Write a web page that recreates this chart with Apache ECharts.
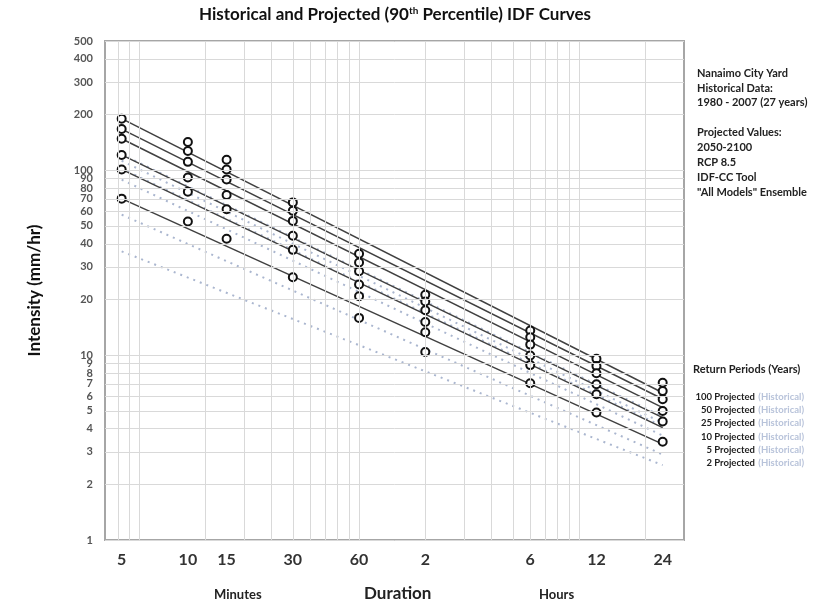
<!DOCTYPE html>
<html><head><meta charset="utf-8">
<script src="https://cdn.jsdelivr.net/npm/echarts@6/dist/echarts.min.js"></script>
<style>html,body{margin:0;padding:0;background:#fff}#c{width:817px;height:607px}</style>
</head><body><div id="c"></div>
<script>
// Durations in minutes
const durations = [5, 10, 15, 30, 60, 120, 360, 720, 1440];
const returnPeriods = ['100', '50', '25', '10', '5', '2'];

// Projected IDF values (mm/hr), markers
const projected100 = [190, 142, 114, 67, 35.3, 21.2, 13.6, 9.55, 7.09];
const projected50  = [167, 127, 101, 60.3, 31.7, 19.5, 12.5, 8.72, 6.40];
const projected25  = [148, 111, 89.2, 53.2, 28.4, 17.5, 11.4, 7.97, 5.77];
const projected10  = [121, 91.4, 73.5, 44.2, 24.1, 15.1, 9.96, 6.95, 4.99];
const projected5   = [101, 76.6, 61.5, 37.1, 20.8, 13.3, 8.83, 6.14, 4.37];
const projected2   = [70.2, 52.8, 42.6, 26.4, 15.9, 10.4, 7.04, 4.89, 3.40];

// Fitted projected curves (values at first and last duration)
const fitDurations = [5, 1440];
const fit100 = [190, 6.26];
const fit50  = [167, 5.79];
const fit25  = [148, 5.20];
const fit10  = [121, 4.59];
const fit5   = [101, 4.05];
const fit2   = [70.2, 3.30];

// Historical fitted curves (dotted)
const hist100 = [122, 4.65];
const hist50  = [102, 4.12];
const hist25  = [112.5, 4.3];
const hist10  = [88.9, 3.67];
const hist5   = [57.5, 2.90];
const hist2   = [36.4, 2.54];

// Axis ticks
const xTickValues = [5, 10, 15, 30, 60, 120, 360, 720, 1440];
const xTickLabels = ['5', '10', '15', '30', '60', '2', '6', '12', '24'];
const xGridValues = [4.8, 5.4, 6, 12, 18, 24, 30, 36, 42, 48, 54, 60, 120, 180, 240, 300, 360, 420, 480, 540, 600, 1200];
const yTickValues = [1, 2, 3, 4, 5, 6, 7, 8, 9, 10, 20, 30, 40, 50, 60, 70, 80, 90, 100, 200, 300, 400, 500];

const projected = [projected100, projected50, projected25, projected10, projected5, projected2];
const fits = [fit100, fit50, fit25, fit10, fit5, fit2];
const hists = [hist100, hist50, hist25, hist10, hist5, hist2];

const FONT = 'Lato, "Open Sans", sans-serif';
const chart = echarts.init(document.getElementById('c'), null, {renderer: 'canvas'});

const gridMarkData = [];
yTickValues.forEach(v => gridMarkData.push({
  yAxis: v,
  label: {show: true, position: 'start', distance: 12, formatter: String(v),
    color: '#555', fontSize: 11, fontWeight: 'bold', fontFamily: FONT}
}));
xGridValues.forEach(v => gridMarkData.push({xAxis: v, label: {show: false}}));
xTickValues.forEach((v, i) => gridMarkData.push({
  xAxis: v,
  lineStyle: {color: 'rgba(255,255,255,0)', width: 0},
  label: {show: true, position: 'start', distance: 12, formatter: xTickLabels[i],
    color: '#333', fontSize: 16, fontWeight: 'bold', fontFamily: FONT}
}));

const series = [];
series.push({
  type: 'line', data: [], silent: true, z: 1,
  markLine: {
    silent: true, symbol: ['none', 'none'], animation: false,
    lineStyle: {color: '#d9d9d9', width: 1, type: 'solid'},
    label: {show: false},
    emphasis: {disabled: true},
    data: gridMarkData
  }
});
hists.forEach((h, i) => series.push({
  name: returnPeriods[i] + ' Historical', type: 'line', z: 2, symbol: 'none', silent: true,
  data: fitDurations.map((d, j) => [d, h[j]]),
  lineStyle: {color: '#aab6cf', width: 2, type: [2, 5]}
}));
fits.forEach((f, i) => series.push({
  name: returnPeriods[i] + ' Projected fit', type: 'line', z: 3, symbol: 'none', silent: true,
  data: fitDurations.map((d, j) => [d, f[j]]),
  lineStyle: {color: '#404040', width: 1.5}
}));
projected.forEach((p, i) => series.push({
  name: returnPeriods[i] + ' Projected', type: 'scatter', z: 4, silent: true,
  symbol: 'circle', symbolSize: 8,
  data: durations.map((d, j) => [d, p[j]]),
  itemStyle: {color: '#fff', borderColor: '#111', borderWidth: 2, opacity: 1}
}));

const rightText = [
  ['Nanaimo City Yard', 75], ['Historical Data:', 90], ['1980 - 2007 (27 years)', 104],
  ['Projected Values:', 134], ['2050-2100', 149], ['RCP 8.5', 164], ['IDF-CC Tool', 179],
  ['"All Models" Ensemble', 194]
];
const graphics = [];
rightText.forEach(([t, y]) => graphics.push({
  type: 'text', left: 697, top: y - 7, silent: true,
  style: {text: t, font: 'bold 11px ' + FONT, fill: '#222'}
}));
graphics.push({type: 'text', left: 693, top: 364, silent: true,
  style: {text: 'Return Periods (Years)', font: 'bold 11px ' + FONT, fill: '#222'}});
const legendY = [397, 410, 423, 437, 450, 463];
returnPeriods.forEach((rp, i) => graphics.push({
  type: 'text', right: 13, top: legendY[i] - 6, silent: true,
  style: {
    text: '{p|' + rp + ' Projected} {h|(Historical)}',
    rich: {
      p: {fontSize: 9.5, fontWeight: 'bold', fontFamily: FONT, fill: '#222', color: '#222'},
      h: {fontSize: 9.5, fontWeight: 'bold', fontFamily: FONT, fill: '#b8c3da', color: '#b8c3da'}
    }
  }
}));
graphics.push({type: 'text', left: 199, top: 6, silent: true,
  style: {
    text: '{t|Historical and Projected (90}{s|th}{t| Percentile) IDF Curves}',
    rich: {
      t: {fontSize: 17, fontWeight: 'bold', fontFamily: FONT, fill: '#111', color: '#111'},
      s: {fontSize: 10, fontWeight: 'bold', fontFamily: FONT, fill: '#111', color: '#111', verticalAlign: 'top'}
    }
  }
});
graphics.push({type: 'text', left: 214, top: 588, silent: true,
  style: {text: 'Minutes', font: 'bold 13px ' + FONT, fill: '#222'}});
graphics.push({type: 'text', left: 364, top: 585, silent: true,
  style: {text: 'Duration', font: 'bold 17px ' + FONT, fill: '#222'}});
graphics.push({type: 'text', left: 539, top: 588, silent: true,
  style: {text: 'Hours', font: 'bold 13px ' + FONT, fill: '#222'}});

chart.setOption({
  animation: false,
  backgroundColor: '#fff',
  grid: {left: 105, right: 133, top: 41, bottom: 67, show: true, borderColor: '#a6a6a6', borderWidth: 2, backgroundColor: 'transparent'},
  xAxis: {
    type: 'log', logBase: 10, min: 4.2, max: 1800,
    axisLine: {show: false}, axisTick: {show: false}, axisLabel: {show: false}, splitLine: {show: false}, minorSplitLine: {show: false}
  },
  yAxis: {
    type: 'log', logBase: 10, min: 1, max: 500,
    name: 'Intensity (mm/hr)', nameLocation: 'middle', nameGap: 62,
    nameTextStyle: {fontSize: 17, fontWeight: 'bold', fontFamily: FONT, color: '#111'},
    axisLine: {show: false}, axisTick: {show: false}, axisLabel: {show: false}, splitLine: {show: false}, minorSplitLine: {show: false}
  },
  series: series,
  graphic: graphics
});
</script></body></html>
